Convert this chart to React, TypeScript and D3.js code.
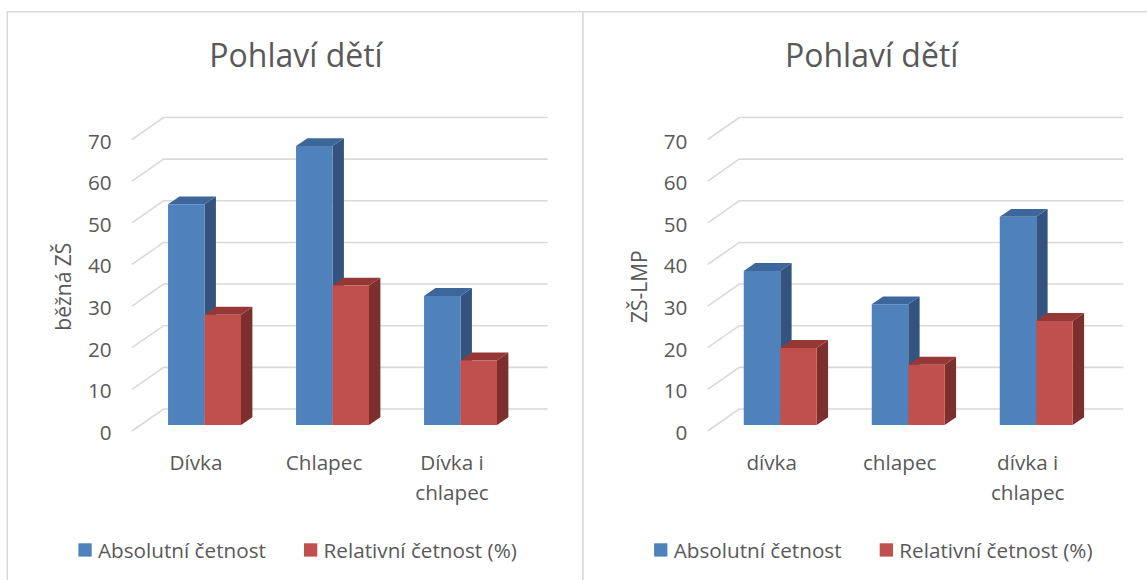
import React from "react";
import * as d3 from "d3";

const title = "Pohlaví dětí";
const seriesNames = ["Absolutní četnost", "Relativní četnost (%)"];
const yTicks = [0, 10, 20, 30, 40, 50, 60, 70];

const leftCategories = ["Dívka", "Chlapec", "Dívka i|chlapec"];
const leftAbsolute = [53, 67, 31];
const leftRelative = [26.5, 33.5, 15.5];
const leftAxisTitle = "běžná ZŠ";

const rightCategories = ["dívka", "chlapec", "dívka i|chlapec"];
const rightAbsolute = [37, 29, 50];
const rightRelative = [18.5, 14.5, 25];
const rightAxisTitle = "ZŠ-LMP";

const FONT = "'Open Sans', 'Noto Sans', sans-serif";
const TEXT = "#595959";
const GRID = "#D9D9D9";
const COLORS = [
  { front: "#4F81BD", side: "#33547E", top: "#3D669A" },
  { front: "#C0504D", side: "#7D2F2D", top: "#953836" },
];

type PanelProps = {
  dx: number;
  categories: string[];
  absVals: number[];
  relVals: number[];
  axisTitle: string;
};

function Panel({ dx, categories, absVals, relVals, axisTitle }: PanelProps) {
  const ox = 132; // floor front-left
  const oy = 431;
  const DX = 31.6; // depth offset
  const DY = 22;
  const W = 384;
  const y = d3.scaleLinear().domain([0, 70]).range([0, 291.5]);
  const x = d3.scaleBand<string>().domain(categories).range([0, W]).paddingInner(0.43).paddingOuter(0.215);
  const x1 = d3.scaleBand<string>().domain(["a", "r"]).range([0, x.bandwidth()]);
  const zf = 0.27;
  const zb = 0.63;
  const proj = (px: number, v: number, z: number): [number, number] => [ox + px + z * DX, oy - y(v) - z * DY];
  const pts = (arr: [number, number][]) => arr.map((p) => p.join(",")).join(" ");
  const series = [absVals, relVals];
  const cx = 295;

  return (
    <g transform={`translate(${dx},0)`}>
      <rect x={7.3} y={11.7} width={575.7} height={600} fill="#fff" stroke={GRID} strokeWidth={1.5} />
      <text x={cx + 1} y={67} textAnchor="middle" fontFamily={FONT} fontSize={32} fill={TEXT}>
        {title}
      </text>
      {/* gridlines */}
      {yTicks.map((t) => {
        const [fx, fy] = proj(0, t, 0);
        const [bx, by] = proj(0, t, 1);
        const [ex] = proj(W, t, 1);
        return (
          <g key={t}>
            <polyline points={pts([[fx, fy], [bx, by], [ex, by]])} fill="none" stroke={GRID} strokeWidth={1.6} />
            <text x={111.7} y={fy + 1} textAnchor="end" dominantBaseline="central" fontFamily={FONT} fontSize={20.7} fill={TEXT}>
              {t}
            </text>
          </g>
        );
      })}
      {/* bars */}
      {categories.map((c, i) => (
        <g key={c}>
          {series.map((vals, s) => {
            const v = vals[i];
            const x0 = (x(c) ?? 0) + (x1(s === 0 ? "a" : "r") ?? 0);
            const w = x1.bandwidth();
            const fbl = proj(x0, 0, zf);
            const ftl = proj(x0, v, zf);
            const ftr = proj(x0 + w, v, zf);
            const fbr = proj(x0 + w, 0, zf);
            const btl = proj(x0, v, zb);
            const btr = proj(x0 + w, v, zb);
            const bbr = proj(x0 + w, 0, zb);
            const col = COLORS[s];
            return (
              <g key={s}>
                <polygon points={pts([fbr, ftr, btr, bbr])} fill={col.side} />
                <polygon points={pts([ftl, ftr, btr, btl])} fill={col.top} />
                <polygon points={pts([fbl, ftl, ftr, fbr])} fill={col.front} />
              </g>
            );
          })}
        </g>
      ))}
      {/* category labels */}
      {categories.map((c) => {
        const lines = c.split("|");
        const [lx] = proj((x(c) ?? 0) + x.bandwidth() / 2, 0, 0);
        return (
          <text key={c} textAnchor="middle" fontFamily={FONT} fontSize={20.7} fill={TEXT}>
            {lines.map((l, k) => (
              <tspan key={k} x={lx} y={461.6 + k * 30.4} dominantBaseline="central">
                {l}
              </tspan>
            ))}
          </text>
        );
      })}
      {/* axis title */}
      <text
        transform={`translate(62.9,286.7) rotate(-90)`}
        textAnchor="middle"
        dominantBaseline="central"
        fontFamily={FONT}
        fontSize={21}
        fill={TEXT}
      >
        {axisTitle}
      </text>
      {/* legend */}
      {seriesNames.map((n, s) => {
        const sx = s === 0 ? cx - 216.6 : cx + 9;
        return (
          <g key={n}>
            <rect x={sx} y={543.3} width={13.3} height={13.3} fill={COLORS[s].front} />
            <text x={sx + 19.6} y={550} dominantBaseline="central" fontFamily={FONT} fontSize={20.7} fill={TEXT}>
              {n}
            </text>
          </g>
        );
      })}
    </g>
  );
}

export default function App() {
  return (
    <svg width={1147} height={580} style={{ position: "absolute", left: 0, top: 0, background: "#fff" }}>
      <rect width={1147} height={580} fill="#fff" />
      <Panel dx={0} categories={leftCategories} absVals={leftAbsolute} relVals={leftRelative} axisTitle={leftAxisTitle} />
      <Panel dx={575.7} categories={rightCategories} absVals={rightAbsolute} relVals={rightRelative} axisTitle={rightAxisTitle} />
    </svg>
  );
}
